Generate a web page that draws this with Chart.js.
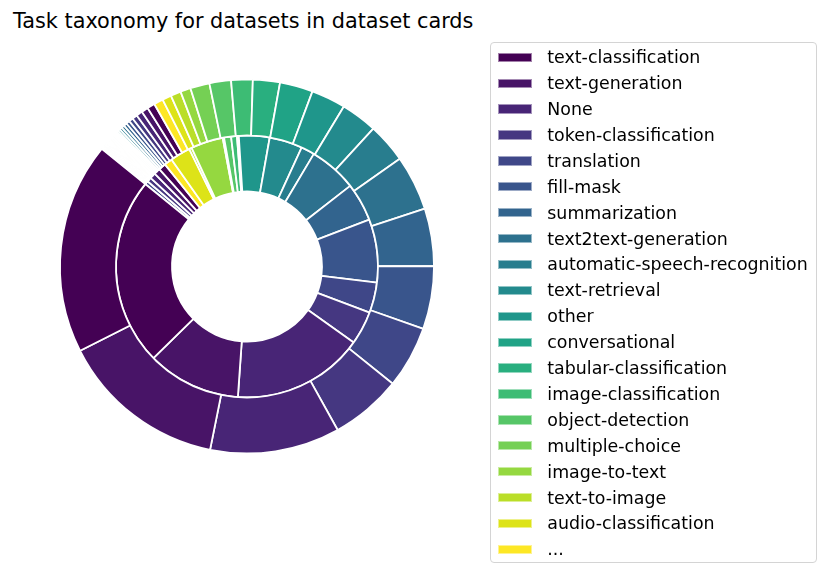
<!DOCTYPE html>
<html>
<head>
<meta charset="utf-8">
<script src="https://cdn.jsdelivr.net/npm/chart.js@4.4.1/dist/chart.umd.min.js"></script>
<style>
  html, body { margin: 0; padding: 0; background: #ffffff; }
  body { width: 831px; height: 577px; position: relative; overflow: hidden; font-family: 'DejaVu Sans', sans-serif; }
  #title { position: absolute; left: 13px; top: 9px; font-size: 20.8px; line-height: 24px; color: #000; white-space: nowrap; }
  #wrap { position: absolute; left: 0; top: 0; width: 831px; height: 577px; }
  #legend { position: absolute; left: 490px; top: 41.7px; width: 327px; height: 521px; box-sizing: border-box;
            border: 1px solid #d4d4d4; border-radius: 4px; background: rgba(255,255,255,0.8); }
  .row { position: absolute; left: 0; height: 20px; width: 100%; font-size: 17.4px; line-height: 20px; color: #000; white-space: nowrap; }
  .patch { position: absolute; left: 7.3px; top: 5.4px; width: 33.4px; height: 9.3px; box-sizing: border-box; border: 0.6px solid rgba(255,255,255,0.5); }
  .txt { position: absolute; left: 56.3px; top: 0; }
</style>
</head>
<body>
<div id="title">Task taxonomy for datasets in dataset cards</div>
<div id="wrap"><canvas id="chart"></canvas></div>
<div id="legend"></div>
<script>
// legend entries (outer ring, in drawing order)
const legendLabels = [
	'text-classification', 'text-generation', 'None', 'token-classification',
	'translation', 'fill-mask', 'summarization', 'text2text-generation',
	'automatic-speech-recognition', 'text-retrieval', 'other', 'conversational',
	'tabular-classification', 'image-classification', 'object-detection',
	'multiple-choice', 'image-to-text', 'text-to-image', 'audio-classification', '...'
];

// 20 step viridis, cycled for the wedges after the 20th
const viridis20 = [
	'#440154', '#481467', '#482576', '#453781', '#3f4788', '#39558c', '#32648e',
	'#2d718e', '#287d8e', '#238a8d', '#1f968b', '#20a386', '#29af7f', '#3dbc74',
	'#56c667', '#75d054', '#95d840', '#bade28', '#dde318', '#fde725'
];

// wedge shares (degrees of the circle), counter-clockwise from the start angle
const outerShare = [
	65.8, 51.8, 40.4, 22.2, 19.3, 19.6, 17.9, 17.2, 12.3, 11.3,
	10.7, 10.3, 8.4, 6.7, 6.7, 6.0, 3.2, 3.2, 2.8, 2.9,
	2.4, 2.1, 1.9, 1.6, 1.3, 1.1, 1.0, 0.9, 0.8, 0.7,
	0.6, 0.55, 0.5, 0.45, 0.4, 0.36, 0.33, 0.3, 0.28, 0.26,
	0.24, 0.22, 0.2, 0.19, 0.18, 0.17, 0.16, 0.15, 0.14, 0.13,
	0.12, 0.11, 0.1, 0.1, 0.09, 0.09, 0.08, 0.08, 0.07, 0.07,
	0.06, 0.06, 0.06, 0.06, 0.06, 0.06, 0.05, 0.05, 0.05, 0.05,
	0.05, 0.05, 0.04, 0.04, 0.04
];

const innerShare = [
	83.4, 41.6, 58.5, 14.9, 13.5, 28.1, 17, 21.3, 6, 14.7,
	13.6, 0.4, 0.4, 2.6, 3.1, 0.6, 14.3, 1.2, 9, 3.6,
	3.2, 2.8, 2.6, 2.0, 1.6
];

// matplotlib style start angle (degrees, counter-clockwise from 3 o'clock)
const startAngle = 141;

function wedgeColors(values) {
	return values.map((v, i) => viridis20[i % viridis20.length]);
}

// chart.js goes clockwise from 12 o'clock, so reverse everything
function reversed(arr) {
	return arr.slice().reverse();
}

var outerLabels = outerShare.map((v, i) => i < legendLabels.length - 1 ? legendLabels[i] : '...');

const ctx = document.getElementById('chart');
new Chart(ctx, {
	type: 'doughnut',
	data: {
		labels: reversed(outerLabels),
		datasets: [{
			data: reversed(outerShare),
			backgroundColor: reversed(wedgeColors(outerShare)),
			borderColor: '#ffffff',
			borderWidth: 1.8
		}, {
			data: reversed(innerShare),
			backgroundColor: reversed(wedgeColors(innerShare)),
			borderColor: '#ffffff',
			borderWidth: 1.8
		}]
	},
	options: {
		responsive: true,
		maintainAspectRatio: false,
		animation: false,
		rotation: 90 - startAngle,
		radius: 187,
		cutout: '40.1%',
		layout: {
			padding: { left: 47, right: 384, top: 66.5, bottom: 110.5 }
		},
		plugins: {
			legend: { display: false },
			tooltip: { enabled: false }
		}
	}
});

// legend box, built from the same arrays
var legend = document.getElementById('legend');
for (let i = 0; i < legendLabels.length; i++) {
	var row = document.createElement('div');
	row.className = 'row';
	row.style.top = (4.6 + 25.9 * i) + 'px';
	var patch = document.createElement('div');
	patch.className = 'patch';
	patch.style.background = viridis20[i];
	var txt = document.createElement('span');
	txt.className = 'txt';
	txt.textContent = legendLabels[i];
	row.appendChild(patch);
	row.appendChild(txt);
	legend.appendChild(row);
}
</script>
</body>
</html>
